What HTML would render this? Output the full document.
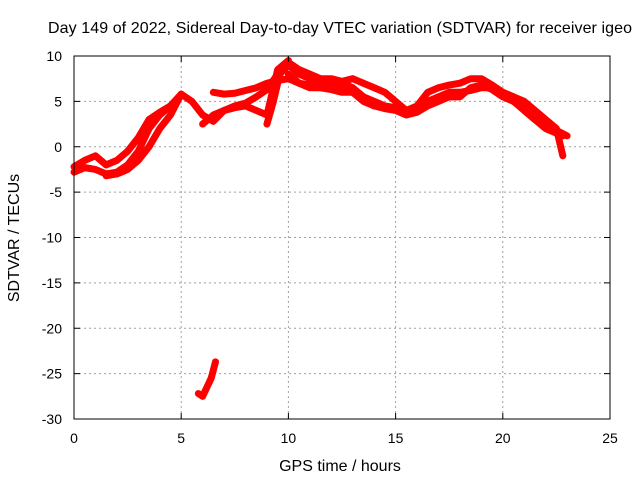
<!DOCTYPE html>
<html><head><meta charset="utf-8"><style>
body{margin:0;background:#fff}
svg{display:block;font-family:"Liberation Sans",sans-serif;font-size:14px}
.big{font-size:16px}
</style></head><body>
<svg id="c" width="640" height="480">
<rect width="640" height="480" fill="#fff"/>
<text class="big" x="340" y="33" text-anchor="middle" textLength="584">Day 149 of 2022, Sidereal Day-to-day VTEC variation (SDTVAR) for receiver igeo</text>
<text class="big" x="340" y="471" text-anchor="middle">GPS time / hours</text>
<text class="big" transform="translate(19,238) rotate(-90)" text-anchor="middle">SDTVAR / TECUs</text>
<g id="grid"></g><g id="series"></g><g id="ticks"></g>
<rect x="74" y="56" width="536" height="363" fill="none" stroke="#000" stroke-width="1"/>
</svg>
<script>
const xTicks=[0,5,10,15,20,25];
const yTicks=[10,5,0,-5,-10,-15,-20,-25,-30];
const sA=[[0,-2.8],[0.5,-2.3],[1,-2.5],[1.5,-3],[2,-2.8],[2.5,-2],[3,-0.5],[3.5,2],[4,3.5],[4.5,4.5],[5,5.8],[5.5,5],[6,3.5],[6.5,2.8],[7,4],[7.5,4.5],[8,4.8],[8.5,5.5],[9,6.3],[9.5,8],[10,9.3],[10.5,8.5],[11,8],[11.5,7.5],[12,7.5],[12.5,7.2],[13,7.5],[13.5,7],[14,6.5],[14.5,6],[15,5],[15.5,4],[16,4.5],[16.5,6],[17,6.5],[17.5,6.8],[18,7],[18.5,7.5],[19,7.5],[19.5,6.8],[20,6],[20.5,5.5],[21,4],[21.5,3],[22,2],[22.5,1.5],[22.8,1.2]];
const sB=[[0,-2.2],[0.5,-1.5],[1,-1],[1.5,-2],[2,-1.5],[2.5,-0.5],[3,1],[3.5,3],[4,3.8],[4.5,4.5]];
const sB2=[[1.5,-3.2],[2,-3],[2.5,-2.5],[3,-1.5],[3.5,0],[4,2],[4.5,3.5],[5,5.8]];
const sC=[[6.5,6],[7,5.8],[7.5,5.9],[8,6.2],[8.5,6.5],[9,7],[9.5,7.3],[10,7.5],[10.5,7],[11,6.5],[11.5,6.5],[12,6.3],[12.5,6],[13,6],[13.5,5.5],[14,5],[14.5,4.5],[15,4.3],[15.5,3.8],[16,4],[16.5,5],[17,5.5],[17.5,6],[18,6],[18.5,6.2],[19,6.5],[19.5,6.5],[20,6],[20.5,5.5],[21,5],[21.5,4],[22,3],[22.5,2],[22.8,-1]];
const sD=[[6,2.5],[6.5,3.5],[7,4],[7.5,4.3],[8,4.5],[8.5,4],[9,3.5],[9.5,8.5],[10,9.5]];
const sE=[[9,2.5],[9.3,5],[9.6,8],[10,9],[10.5,8],[11,7.5],[11.5,7],[12,7],[12.5,7],[13,6.5],[13.5,5.5],[14,4.5]];
const sF=[[10,8],[10.5,7],[11,6.8],[11.5,6.5],[12,6.8],[12.5,6.5],[13,6],[13.5,5],[14,4.5],[14.5,4.2],[15,4],[15.5,3.5],[16,3.8],[16.5,4.5],[17,5],[17.5,5.5],[18,5.5],[18.5,6.5],[19,6.8],[19.5,6.3],[20,5.5],[20.5,5],[21,4],[21.5,3],[22,2.5],[22.5,1.8],[23,1.2]];
const sG=[[5.8,-27.2],[6.0,-27.5],[6.2,-26.5],[6.4,-25.5],[6.6,-23.7]];
const allSeries=[sA,sB,sB2,sC,sD,sE,sF,sG];
const X=h=>74+h*536/25, Y=v=>56+(10-v)*363/40;
const NS="http://www.w3.org/2000/svg";
const grid=document.getElementById('grid'),tk=document.getElementById('ticks'),ser=document.getElementById('series');
function mk(p,tag,a){const e=document.createElementNS(NS,tag);for(const k in a)e.setAttribute(k,a[k]);p.appendChild(e);return e;}
xTicks.forEach(t=>{const x=X(t);
 if(t>0&&t<25){const g=mk(grid,'line',{x1:x,x2:x,y1:56,y2:419,stroke:'#a0a0a0','stroke-dasharray':'2,3'});
 
 }
 const l=mk(tk,'line',{x1:x,x2:x,y1:419,y2:413,stroke:'#000'});
 
 const l2=mk(tk,'line',{x1:x,x2:x,y1:56,y2:62,stroke:'#000'});
 
 const s=mk(tk,'text',{x:x,y:443,'text-anchor':'middle'});s.textContent=t;
 
 });
yTicks.forEach(t=>{const y=Y(t);
 if(t<10&&t>-30){const g=mk(grid,'line',{x1:74,x2:610,y1:y,y2:y,stroke:'#a0a0a0','stroke-dasharray':'2,3'});
 
 }
 const l=mk(tk,'line',{x1:74,x2:80,y1:y,y2:y,stroke:'#000'});
 
 const l2=mk(tk,'line',{x1:604,x2:610,y1:y,y2:y,stroke:'#000'});
 
 const s=mk(tk,'text',{x:62,y:y+5,'text-anchor':'end'});s.textContent=t;
 
 });
allSeries.forEach((d,i)=>{const p=mk(ser,'polyline',{points:d.map(q=>X(q[0])+','+Y(q[1])).join(' '),fill:'none',stroke:'#ff0000','stroke-width':7,'stroke-linejoin':'round','stroke-linecap':'round'});
 
 });
</script>
</body></html>
